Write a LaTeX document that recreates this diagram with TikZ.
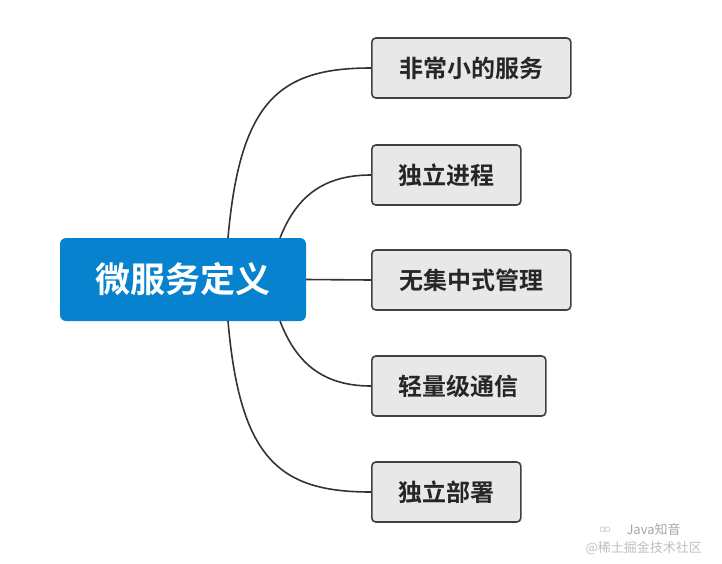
\documentclass[tikz,border=0pt]{standalone}
\usepackage{fontspec}
\newfontfamily\cjk{Noto Sans CJK SC}
\newfontfamily\cjkb{Noto Sans CJK SC Bold}
\begin{document}
\begin{tikzpicture}[x=1pt,y=-1pt,
  leaf/.style={draw=black!75,line width=1.6pt,fill=black!9,rounded corners=4pt,minimum height=60pt,inner xsep=0pt,anchor=west,font=\cjkb\fontsize{24}{26}\selectfont,text=black!85},
  con/.style={draw=black!80,line width=1.6pt}]
\useasboundingbox (0,0) rectangle (722,563);
\node[fill={rgb,255:red,7;green,130;blue,207},rounded corners=6pt,minimum width=246pt,minimum height=83pt,text=white,font=\cjkb\fontsize{35}{38}\selectfont] (c) at (183,279.5) {微服务定义};
\node[leaf,minimum width=199pt] (a) at (371,68) {非常小的服务};
\node[leaf,minimum width=149pt] (b) at (371,175) {独立进程};
\node[leaf,minimum width=199pt] (d) at (371,280) {无集中式管理};
\node[leaf,minimum width=174pt] (e) at (371,386) {轻量级通信};
\node[leaf,minimum width=149pt] (f) at (371,492) {独立部署};
\coordinate (c1) at (228,238);
\coordinate (c2) at (280,238);
\coordinate (c4) at (280,321);
\coordinate (c5) at (228,321);
\draw[con] (c1) .. controls (240,100) and (280,68) .. (a.west);
\draw[con] (c2) .. controls (295,200) and (320,175) .. (b.west);
\draw[con] (c.east) -- (d.west);
\draw[con] (c4) .. controls (295,360) and (320,386) .. (e.west);
\draw[con] (c5) .. controls (240,460) and (280,492) .. (f.west);
\node[text=black!35,font=\cjk\fontsize{13}{14}\selectfont,anchor=west] (w1) at (623,530) {Java知音};
\node[text=black!25,font=\cjk\fontsize{13}{14}\selectfont,anchor=west] (w2) at (582,548) {@稀土掘金技术社区};
\node[text=black!30,font=\fontsize{14}{14}\selectfont] (w0) at (605,530) {$\circ\!\circ$};
\end{tikzpicture}
\end{document}
